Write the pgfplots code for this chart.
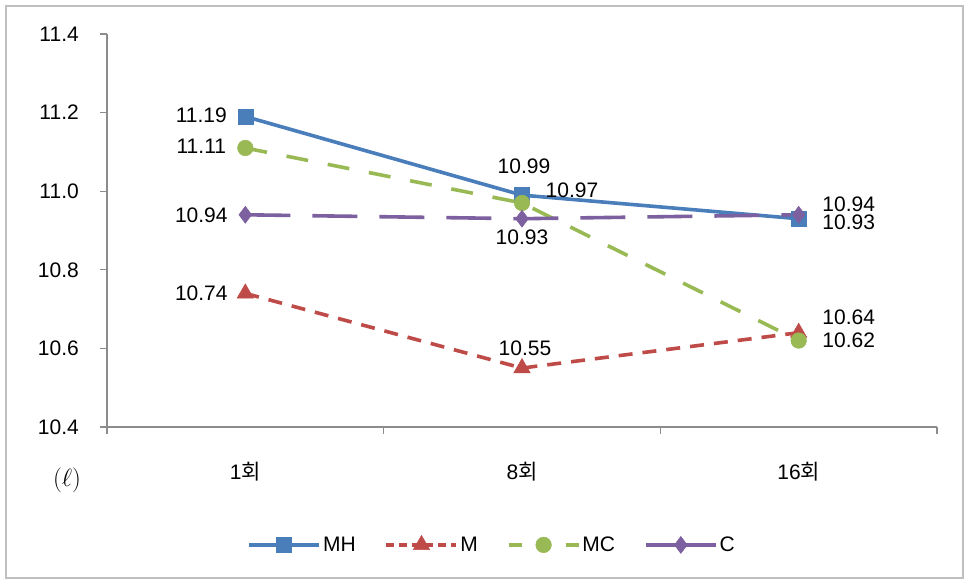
\documentclass[border=0pt]{standalone}
\usepackage{pgfplots}
\pgfplotsset{compat=1.18}
\usepackage{fontspec}
\setmainfont{Liberation Sans}
\newfontfamily\kr{Noto Sans CJK KR}

\definecolor{cMH}{HTML}{4A7EBB}
\definecolor{cM}{HTML}{BE4B48}
\definecolor{cMC}{HTML}{98B954}
\definecolor{cC}{HTML}{7D60A0}
\definecolor{axisgray}{HTML}{8C8C8C}
\definecolor{framegray}{HTML}{BFBFBF}

\newcommand{\lblfont}{\fontsize{21}{24}\selectfont}

\begin{document}
\begin{tikzpicture}
\useasboundingbox (-107pt,-155pt) rectangle (861pt,427pt);
\draw[framegray, line width=1.6pt] (-101pt,-151pt) rectangle (856pt,421pt);
\begin{axis}[
  at={(0pt,0pt)}, anchor=south west,
  scale only axis, width=830pt, height=393pt,
  clip=false,
  xmin=-0.5, xmax=2.5, ymin=10.4, ymax=11.4,
  axis x line*=bottom, axis y line*=left,
  axis line style={axisgray, line width=1.4pt, -},
  tick align=outside,
  xtick={0,1,2},
  xticklabels={1{\kr 회}, 8{\kr 회}, 16{\kr 회}},
  minor xtick={-0.5,0.5,1.5,2.5},
  x tick style={draw=none},
  minor x tick style={draw=axisgray, line width=1.2pt},
  minor tick length=7pt,
  ytick={10.4,10.6,10.8,11.0,11.2,11.4},
  yticklabels={10.4,10.6,10.8,11.0,11.2,11.4},
  y tick style={draw=axisgray, line width=1.2pt},
  major tick length=7pt,
  tick label style={font=\lblfont, text=black},
  /pgf/number format/assume math mode=true,
  yticklabel style={inner sep=0pt, anchor=east, xshift=-21pt},
  xticklabel style={inner sep=0pt, anchor=center, yshift=-38pt},
  legend columns=4,
  legend style={at={(0.464,-0.30)}, anchor=center, draw=none, fill=none,
    font=\lblfont, text=black,
    /tikz/every even column/.append style={column sep=27pt}},
  legend image code/.code={%
    \draw[mark repeat=2, mark phase=2, #1]
      plot coordinates {(0pt,0pt) (35pt,0pt) (70pt,0pt)};},
  every axis plot/.append style={line width=3.6pt},
]
% MH
\addplot[cMH, solid, mark=square*, mark size=7.5pt,
  mark options={solid, fill=cMH, draw=cMH, line width=0.5pt}]
  coordinates {(0,11.19) (1,10.99) (2,10.93)};
\addlegendentry{MH}
% M
\addplot[cM, dash pattern=on 14pt off 10pt, mark=triangle*, mark size=9.5pt,
  mark options={solid, fill=cM, draw=cM, line width=0.5pt},
  legend image post style={dash pattern=on 8pt off 5pt}]
  coordinates {(0,10.74) (1,10.55) (2,10.64)};
\addlegendentry{M}
% MC
\addplot[cMC, dash pattern=on 22pt off 20pt, mark=*, mark size=7.8pt,
  mark options={solid, fill=cMC, draw=cMC, line width=0.5pt},
  legend image post style={dash pattern=on 13pt off 44pt}]
  coordinates {(0,11.11) (1,10.97) (2,10.62)};
\addlegendentry{MC}
% C
\addplot[cC, dash pattern=on 45pt off 22pt, mark=diamond*, mark size=8.5pt,
  mark options={solid, fill=cC, draw=cC, line width=0.5pt},
  legend image post style={solid}]
  coordinates {(0,10.94) (1,10.93) (2,10.94)};
\addlegendentry{C}

% value labels
\begin{scope}[every node/.style={font=\lblfont, text=black, inner sep=0pt, anchor=center}]
\node[xshift=-44pt, yshift=1pt]  at (axis cs:0,11.19) {11.19};
\node[xshift=-44pt, yshift=2pt]  at (axis cs:0,11.11) {11.11};
\node[xshift=-44pt]              at (axis cs:0,10.94) {10.94};
\node[xshift=-44pt]              at (axis cs:0,10.74) {10.74};
\node[xshift=2pt, yshift=29pt]   at (axis cs:1,10.99) {10.99};
\node[xshift=50pt, yshift=13pt]  at (axis cs:1,10.97) {10.97};
\node[yshift=-19pt]              at (axis cs:1,10.93) {10.93};
\node[xshift=3pt, yshift=20pt]   at (axis cs:1,10.55) {10.55};
\node[xshift=50pt, yshift=-4pt]  at (axis cs:2,10.93) {10.93};
\node[xshift=50pt, yshift=11pt]  at (axis cs:2,10.94) {10.94};
\node[xshift=50pt, yshift=15pt]  at (axis cs:2,10.64) {10.64};
\node[xshift=50pt]               at (axis cs:2,10.62) {10.62};
\end{scope}
\end{axis}
\node[font=\fontsize{26}{30}\selectfont] at (-40pt,-53pt) {$(\ell)$};
\end{tikzpicture}
\end{document}
